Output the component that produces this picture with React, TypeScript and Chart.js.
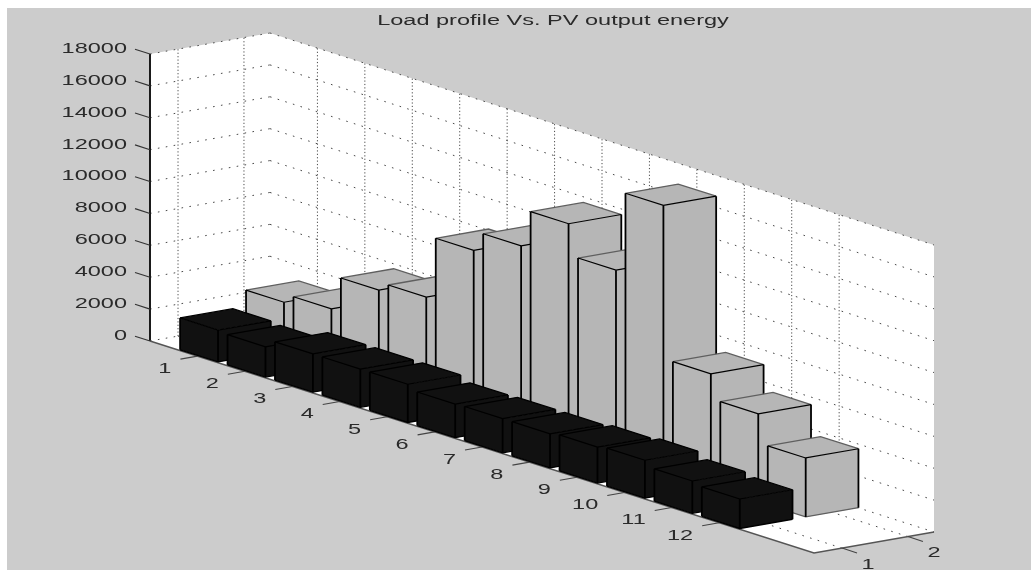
import React, { useEffect, useRef } from "react";
import { Chart, registerables } from "chart.js";

Chart.register(...registerables);

const chartTitle = "Load profile Vs. PV output energy";
const months = [1, 2, 3, 4, 5, 6, 7, 8, 9, 10, 11, 12];
const seriesTicks = [1, 2];
const valueTicks = [0, 2000, 4000, 6000, 8000, 10000, 12000, 14000, 16000, 18000];
const pvOutput = [3020, 3550, 5680, 6190, 10070, 11300, 13640, 11680, 16690, 7080, 5520, 3700];
const loadProfile = [2000, 1900, 2400, 2400, 2400, 2100, 2140, 2140, 2260, 2380, 2030, 1850];

const M_MIN = 0, M_MAX = 14, S_MIN = 0.575, S_MAX = 2.395, V_MAX = 18000, BAR = 0.4;
const SHEAR_M_Y = 212 / 664, DEPTH_X = 120, DEPTH_Y = -21;
const STRETCH = 1.68;
const FONT = '14px "Liberation Sans", Arial, sans-serif';

function project(chart: any, m: number, s: number, v: number): [number, number] {
  const { x, y, s: sc } = chart.scales;
  const { left, width } = chart.chartArea;
  const X = x.getPixelForValue(m);
  const f = (sc.getPixelForValue(s) - left) / width;
  return [X + f * DEPTH_X, y.getPixelForValue(v) + (X - left) * SHEAR_M_Y + f * DEPTH_Y];
}

function path(ctx: CanvasRenderingContext2D, pts: [number, number][], close = false) {
  ctx.beginPath();
  pts.forEach((p, i) => (i ? ctx.lineTo(p[0], p[1]) : ctx.moveTo(p[0], p[1])));
  if (close) ctx.closePath();
}

function stroke(ctx: CanvasRenderingContext2D, pts: [number, number][], color: string, w: number, dash: number[] = []) {
  path(ctx, pts);
  ctx.strokeStyle = color;
  ctx.lineWidth = w;
  ctx.setLineDash(dash);
  ctx.stroke();
  ctx.setLineDash([]);
}

function text(ctx: CanvasRenderingContext2D, t: string, x: number, y: number, align: CanvasTextAlign) {
  ctx.save();
  ctx.translate(x, y);
  ctx.scale(STRETCH, 1);
  ctx.font = FONT;
  ctx.fillStyle = "#2a2a2a";
  ctx.textAlign = align;
  ctx.textBaseline = "middle";
  ctx.fillText(t, 0, 0);
  ctx.restore();
}

function drawBar(chart: any, m: number, s: number, v: number, dark: boolean) {
  const ctx: CanvasRenderingContext2D = chart.ctx;
  const m0 = m - BAR, m1 = m + BAR, s0 = s - BAR, s1 = s + BAR;
  const p = (a: number, b: number, c: number) => project(chart, a, b, c);
  const fill = dark ? "#111111" : "#b6b6b6";
  const faces: [number, number][][] = [
    [p(m0, s0, 0), p(m1, s0, 0), p(m1, s0, v), p(m0, s0, v)],
    [p(m1, s0, 0), p(m1, s1, 0), p(m1, s1, v), p(m1, s0, v)],
    [p(m0, s0, v), p(m1, s0, v), p(m1, s1, v), p(m0, s1, v)],
  ];
  faces.forEach((f) => {
    path(ctx, f, true);
    ctx.fillStyle = fill;
    ctx.fill();
  });
  const soft = dark ? "#000000" : "#5f5f5f";
  stroke(ctx, [p(m0, s0, v), p(m0, s1, v), p(m1, s1, v)], soft, 1.3);
  stroke(ctx, [p(m0, s0, 0), p(m1, s0, 0), p(m1, s1, 0)], soft, 1.3);
  stroke(ctx, [p(m0, s0, v), p(m1, s0, v), p(m1, s1, v)], "#000000", 1.2);
  [[m0, s0], [m1, s0], [m1, s1]].forEach(([a, b]) => stroke(ctx, [p(a, b, 0), p(a, b, v)], "#000000", 1.8));
}

const scene3d = {
  id: "scene3d",
  beforeDraw(chart: any) {
    const ctx: CanvasRenderingContext2D = chart.ctx;
    ctx.save();
    ctx.fillStyle = "#ffffff";
    ctx.fillRect(0, 0, chart.width, chart.height);
    ctx.fillStyle = "#cccccc";
    ctx.fillRect(7, 8, chart.width - 7, chart.height - 8);
    ctx.restore();
  },
  afterDatasetsDraw(chart: any) {
    const ctx: CanvasRenderingContext2D = chart.ctx;
    const p = (a: number, b: number, c: number) => project(chart, a, b, c);
    ctx.save();
    // walls and floor
    path(ctx, [p(M_MIN, S_MIN, 0), p(M_MIN, S_MIN, V_MAX), p(M_MIN, S_MAX, V_MAX), p(M_MAX, S_MAX, V_MAX), p(M_MAX, S_MAX, 0), p(M_MAX, S_MIN, 0)], true);
    ctx.fillStyle = "#ffffff";
    ctx.fill();
    // dotted grids
    const slant = [1.6, 6.4], upright = [1.2, 2.2], grid = "#4a4a4a";
    valueTicks.forEach((v) => {
      stroke(ctx, [p(M_MIN, S_MIN, v), p(M_MIN, S_MAX, v)], grid, 1, slant);
      stroke(ctx, [p(M_MIN, S_MAX, v), p(M_MAX, S_MAX, v)], grid, 1, slant);
    });
    months.forEach((m) => {
      stroke(ctx, [p(m, S_MIN, 0), p(m, S_MAX, 0)], grid, 1, slant);
      stroke(ctx, [p(m, S_MAX, 0), p(m, S_MAX, V_MAX)], grid, 1, upright);
    });
    seriesTicks.forEach((s) => {
      stroke(ctx, [p(M_MAX, s, 0), p(M_MIN, s, 0)], grid, 1, slant);
      stroke(ctx, [p(M_MIN, s, 0), p(M_MIN, s, V_MAX)], grid, 1, upright);
    });
    // axis lines
    stroke(ctx, [p(M_MIN, S_MIN, 0), p(M_MIN, S_MIN, V_MAX)], "#1a1a1a", 2);
    stroke(ctx, [p(M_MIN, S_MIN, 0), p(M_MAX, S_MIN, 0), p(M_MAX, S_MAX, 0)], "#555555", 1.4);
    // tick marks and labels
    valueTicks.forEach((v) => {
      const a = p(M_MIN, S_MIN, v);
      stroke(ctx, [a, [a[0] - 15, a[1] - 4.8]], "#333333", 1.1);
      text(ctx, String(v), a[0] - 23, a[1] - 5, "right");
    });
    months.forEach((m) => {
      const a = p(m, S_MIN, 0);
      stroke(ctx, [a, [a[0] - 17, a[1] + 3]], "#444444", 1.1);
      text(ctx, String(m), a[0] - 26, a[1] + 13, "right");
    });
    seriesTicks.forEach((s) => {
      const a = p(M_MAX, s, 0);
      stroke(ctx, [a, [a[0] + 15, a[1] + 5]], "#444444", 1.1);
      text(ctx, String(s), a[0] + 26, a[1] + 17, "center");
    });
    // bars: rear series first, then month by month towards the viewer
    chart.data.datasets.forEach((ds: any) => {
      ds.data.forEach((d: any) => drawBar(chart, d.x, ds.seriesIndex, d.y, ds.seriesIndex === 1));
    });
    text(ctx, chartTitle, 553, 21, "center");
    ctx.restore();
  },
};

export default function App() {
  const ref = useRef<HTMLCanvasElement>(null);
  useEffect(() => {
    const chart = new Chart(ref.current as HTMLCanvasElement, {
      type: "scatter",
      data: {
        datasets: [
          { label: "PV output energy", seriesIndex: 2, pointRadius: 0, data: months.map((m, i) => ({ x: m, y: pvOutput[i] })) },
          { label: "Load profile", seriesIndex: 1, pointRadius: 0, data: months.map((m, i) => ({ x: m, y: loadProfile[i] })) },
        ] as any,
      },
      options: {
        animation: false,
        responsive: false,
        devicePixelRatio: 1,
        events: [],
        layout: { padding: { left: 150, right: 217, top: 54, bottom: 229 } },
        plugins: { legend: { display: false }, title: { display: false }, tooltip: { enabled: false } },
        scales: {
          x: { type: "linear", display: false, min: M_MIN, max: M_MAX },
          y: { type: "linear", display: false, min: 0, max: V_MAX },
          s: { type: "linear", axis: "x", display: false, min: S_MIN, max: S_MAX },
        },
      } as any,
      plugins: [scene3d],
    });
    return () => chart.destroy();
  }, []);
  return <canvas ref={ref} width={1031} height={570} style={{ position: "fixed", left: 0, top: 0, display: "block" }} />;
}
